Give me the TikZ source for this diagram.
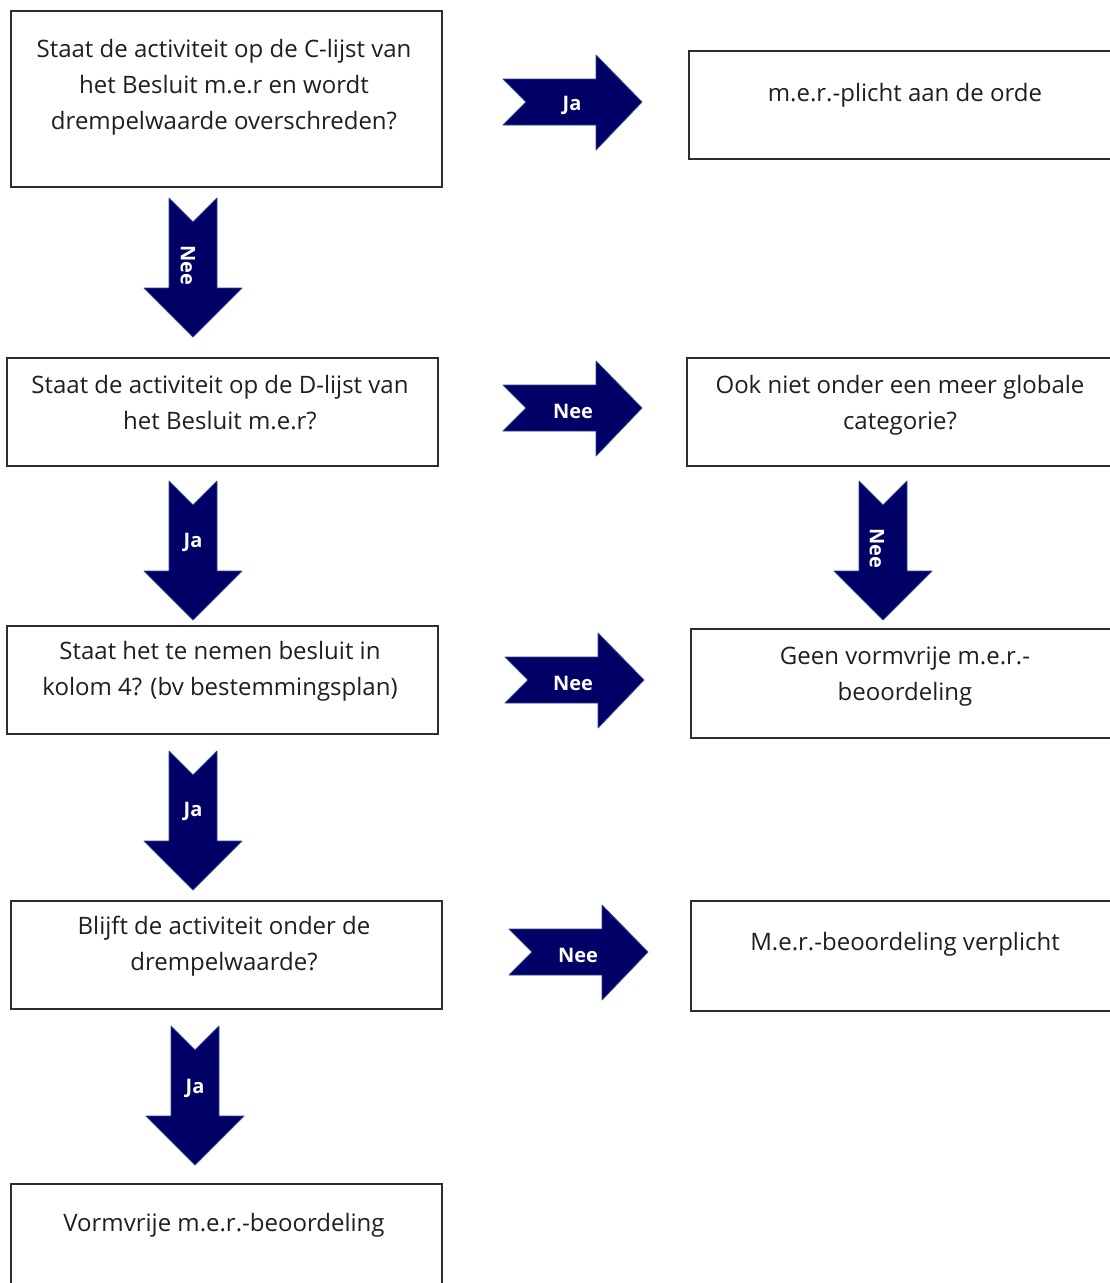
\documentclass[tikz,border=0pt]{standalone}
\usepackage{fontspec}
\setmainfont{Open Sans}
\definecolor{navyblauw}{RGB}{0,0,102}
\definecolor{randblauw}{RGB}{50,70,140}
\definecolor{kader}{RGB}{45,45,45}

\tikzset{
    box/.style={draw=kader, line width=1.5pt, fill=white, anchor=north west, inner sep=0pt},
    txt/.style={align=center, font=\fontsize{24}{36}\selectfont, text=black!88},
    pijltekst/.style={text=white, font=\fontsize{20}{22}\selectfont\bfseries},
    pijl rechts/.pic={
        \fill[navyblauw, draw=randblauw, line width=.8pt, line join=round]
            (0,-23) -- (93,-23) -- (93,-47) -- (139,0) -- (93,48) -- (93,23)
            -- (0,23) -- (23,0) -- cycle;
    },
    pijl omlaag/.pic={
        \fill[navyblauw, draw=randblauw, line width=.8pt, line join=round]
            (-24,0) -- (0,24) -- (24,0) -- (24,90) -- (49,90) -- (0,139)
            -- (-49,90) -- (-24,90) -- cycle;
    },
}

\begin{document}
\begin{tikzpicture}[x=1pt, y=-1pt]
    \clip (0,0) rectangle (1110,1283);
    \fill[white] (0,0) rectangle (1110,1283);

    % linker kolom
    \node[box, minimum width=431, minimum height=176] (clijst) at (10,10) {};
    \node[txt] (clijsttekst) at (224,87) {Staat de activiteit op de C-lijst van\\het Besluit m.e.r en wordt\\drempelwaarde overschreden?};
    \node[box, minimum width=431, minimum height=108] (dlijst) at (6,357) {};
    \node[txt] (dlijsttekst) at (220,403) {Staat de activiteit op de D-lijst van\\het Besluit m.e.r?};
    \node[box, minimum width=431, minimum height=108] (kolom) at (6,625) {};
    \node[txt] (kolomtekst) at (220,671) {Staat het te nemen besluit in\\kolom 4? (bv bestemmingsplan)};
    \node[box, minimum width=431, minimum height=108] (drempel) at (10,900) {};
    \node[txt] (drempeltekst) at (224,946) {Blijft de activiteit onder de\\drempelwaarde?};
    \node[box, minimum width=431, minimum height=130] (vormvrij) at (10,1183) {};
    \node[txt] (vormvrijtekst) at (224,1225) {Vormvrije m.e.r.-beoordeling};

    % rechter kolom
    \node[box, minimum width=440, minimum height=108] (plicht) at (688,50) {};
    \node[txt] (plichttekst) at (905,95) {m.e.r.-plicht aan de orde};
    \node[box, minimum width=440, minimum height=108] (globaal) at (686,357) {};
    \node[txt] (globaaltekst) at (900,405) {Ook niet onder een meer globale\\categorie?};
    \node[box, minimum width=440, minimum height=109] (geen) at (690,628) {};
    \node[txt] (geentekst) at (905,677) {Geen vormvrije m.e.r.-\\beoordeling};
    \node[box, minimum width=440, minimum height=110] (verplicht) at (690,900) {};
    \node[txt] (verplichttekst) at (905,944) {M.e.r.-beoordeling verplicht};

    % pijlen naar rechts
    \pic at (503,102) {pijl rechts};
    \node[pijltekst] (ja1) at (572,105) {Ja};
    \pic at (503,408) {pijl rechts};
    \node[pijltekst] (nee2) at (573,411) {Nee};
    \pic at (505,680) {pijl rechts};
    \node[pijltekst] (nee3) at (573,683) {Nee};
    \pic at (509,952) {pijl rechts};
    \node[pijltekst] (nee4) at (578,955) {Nee};

    % pijlen omlaag
    \pic at (193,198) {pijl omlaag};
    \node[pijltekst, rotate=-90] (nee1) at (188,265) {Nee};
    \pic at (193,481) {pijl omlaag};
    \node[pijltekst] (ja2) at (193,542) {Ja};
    \pic at (193,751) {pijl omlaag};
    \node[pijltekst] (ja3) at (193,811) {Ja};
    \pic at (195,1026) {pijl omlaag};
    \node[pijltekst] (ja4) at (195,1088) {Ja};
    \pic at (883,481) {pijl omlaag};
    \node[pijltekst, rotate=-90] (nee5) at (877,548) {Nee};
\end{tikzpicture}
\end{document}
